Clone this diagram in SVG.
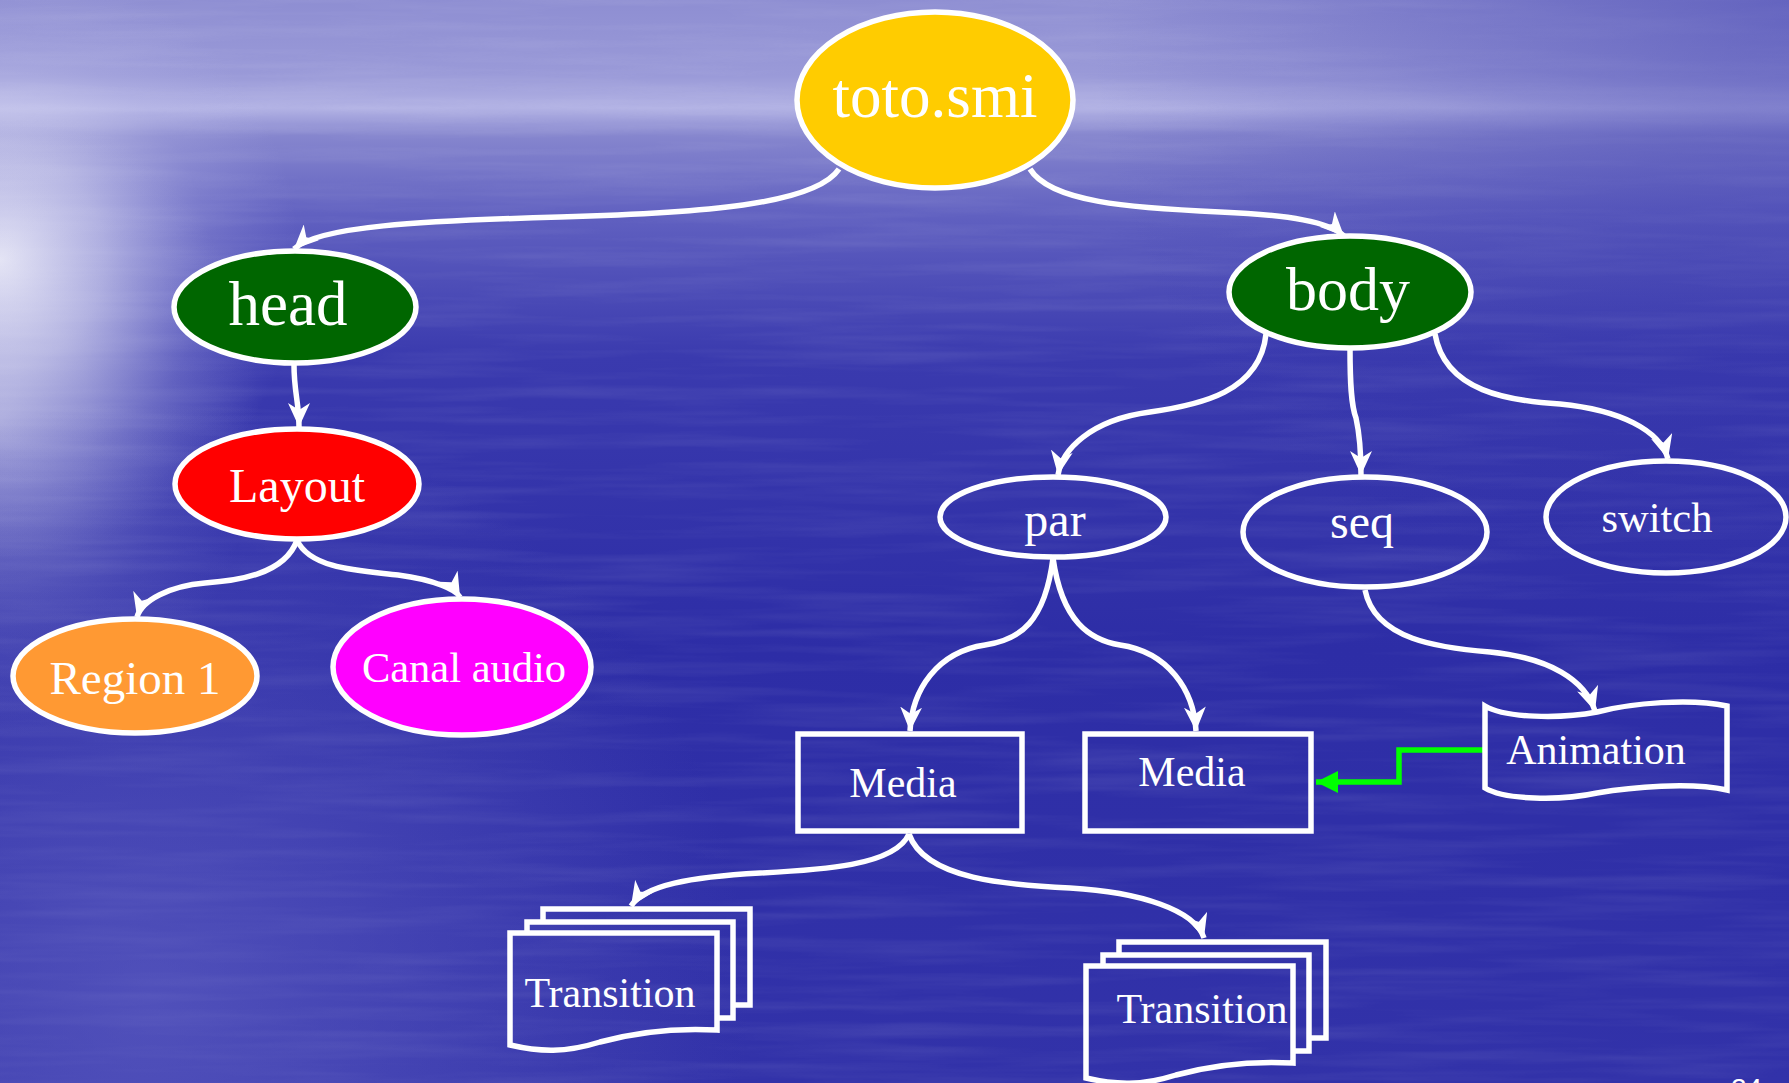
<svg xmlns="http://www.w3.org/2000/svg" width="1789" height="1083" viewBox="0 0 1789 1083">
<defs>
<linearGradient id="sky" x1="0" y1="0" x2="0" y2="1">
<stop offset="0" stop-color="#8e8ed2"/>
<stop offset="0.07" stop-color="#9a9ad8"/>
<stop offset="0.1" stop-color="#b2b2e4"/>
<stop offset="0.125" stop-color="#8686ce"/>
<stop offset="0.2" stop-color="#6060c0"/>
<stop offset="0.33" stop-color="#3a3aae"/>
<stop offset="0.6" stop-color="#2d2da6"/>
<stop offset="1" stop-color="#3232a9"/>
</linearGradient>
<radialGradient id="dark" cx="1789" cy="0" r="700" gradientUnits="userSpaceOnUse">
<stop offset="0" stop-color="#3030a8" stop-opacity="0.45"/>
<stop offset="1" stop-color="#3030a8" stop-opacity="0"/>
</radialGradient>
<radialGradient id="glow" cx="0.5" cy="0.5" r="0.5">
<stop offset="0" stop-color="#ffffff" stop-opacity="0.85"/>
<stop offset="0.35" stop-color="#eeeefa" stop-opacity="0.55"/>
<stop offset="0.7" stop-color="#c8c8ee" stop-opacity="0.2"/>
<stop offset="1" stop-color="#c0c0ee" stop-opacity="0"/>
</radialGradient>
<radialGradient id="low" cx="150" cy="1000" r="600" gradientUnits="userSpaceOnUse">
<stop offset="0" stop-color="#7070cc" stop-opacity="0.5"/>
<stop offset="1" stop-color="#7070cc" stop-opacity="0"/>
</radialGradient>
<filter id="noise" x="0" y="0" width="100%" height="100%">
<feTurbulence type="fractalNoise" baseFrequency="0.004 0.08" numOctaves="3" seed="3"/>
<feColorMatrix type="matrix" values="0 0 0 0 1  0 0 0 0 1  0 0 0 0 1  0 0 0 0.5 -0.2"/>
</filter>
<marker id="arw" markerUnits="userSpaceOnUse" markerWidth="26" markerHeight="22" refX="24" refY="11" orient="auto">
<path d="M0,0 L24,11 L0,22 L7,11 Z" fill="#ffffff"/>
</marker>
<marker id="garw" markerUnits="userSpaceOnUse" markerWidth="24" markerHeight="22" refX="22" refY="11" orient="auto">
<path d="M0,0 L22,11 L0,22 Z" fill="#00ff00"/>
</marker>
</defs>
<style>
.lbl{font-family:"Liberation Serif","Times New Roman",serif;fill:#ffffff;text-anchor:middle}
.shp{stroke:#ffffff;stroke-width:5.5}
.open{fill:none;stroke:#ffffff;stroke-width:5.5}
.con{fill:none;stroke:#ffffff;stroke-width:5.5;marker-end:url(#arw)}
</style>
<rect x="0" y="0" width="1789" height="1083" fill="url(#sky)"/>
<rect x="0" y="0" width="1789" height="1083" filter="url(#noise)" opacity="0.3"/>
<rect x="0" y="0" width="1789" height="1083" fill="url(#dark)"/>
<ellipse cx="0" cy="260" rx="300" ry="300" fill="url(#glow)"/>
<ellipse cx="0" cy="420" rx="260" ry="320" fill="url(#glow)" opacity="0.5"/>
<rect x="0" y="0" width="1789" height="1083" fill="url(#low)"/>

<g id="connectors">
<path class="con" d="M839,169 C815,205 700,213 560,217 C420,221 318,226 294,249"/>
<path class="con" d="M1030,169 C1050,202 1130,208 1220,212 C1290,215 1330,222 1344,236"/>
<path class="con" d="M294,365 C294,392 299,402 299,427"/>
<path class="con" d="M297,540 C285,575 235,581 205,583 C170,586 142,600 137,617"/>
<path class="con" d="M297,540 C310,570 365,571 398,575 C436,580 456,590 460,597"/>
<path class="con" d="M1266,334 C1260,392 1200,405 1150,412 C1090,420 1062,450 1058,475"/>
<path class="con" d="M1350,348 C1350,382 1351,405 1356,418 C1360,436 1361,456 1361,475"/>
<path class="con" d="M1435,334 C1445,392 1510,401 1560,404 C1620,410 1660,430 1668,459"/>
<path class="con" d="M1053,558 C1045,622 1020,640 985,645 C937,652 912,690 910,731"/>
<path class="con" d="M1053,558 C1062,622 1090,640 1120,645 C1168,652 1194,690 1196,731"/>
<path class="con" d="M1365,590 C1375,640 1440,648 1490,652 C1550,658 1585,680 1595,711"/>
<path class="con" d="M909,834 C895,866 820,870 760,873 C690,877 645,885 631,906"/>
<path class="con" d="M909,834 C925,880 1010,885 1070,888 C1140,892 1195,910 1204,938"/>
<path d="M1484,750 H1399 V782 H1316" fill="none" stroke="#00ff00" stroke-width="5.5" marker-end="url(#garw)"/>
</g>

<g id="toto">
<ellipse class="shp" cx="935" cy="100" rx="138" ry="88" fill="#ffcc00"/>
<text class="lbl" x="935" y="117" font-size="63">toto.smi</text>
</g>
<g id="head">
<ellipse class="shp" cx="295" cy="307" rx="121" ry="56" fill="#006600"/>
<text class="lbl" x="288" y="325" font-size="63">head</text>
</g>
<g id="body">
<ellipse class="shp" cx="1350" cy="292" rx="121" ry="56" fill="#006600"/>
<text class="lbl" x="1348" y="310" font-size="62">body</text>
</g>
<g id="layout">
<ellipse class="shp" cx="297" cy="484" rx="122" ry="55" fill="#ff0000"/>
<text class="lbl" x="297" y="502" font-size="48">Layout</text>
</g>
<g id="region1">
<ellipse class="shp" cx="135" cy="676" rx="122" ry="57" fill="#ff9933"/>
<text class="lbl" x="135" y="694" font-size="47">Region 1</text>
</g>
<g id="canal">
<ellipse class="shp" cx="462" cy="667" rx="129" ry="68" fill="#ff00ff"/>
<text class="lbl" x="464" y="682" font-size="42.5">Canal audio</text>
</g>
<g id="par">
<ellipse class="shp" cx="1053" cy="517" rx="113" ry="40" fill="none"/>
<text class="lbl" x="1055" y="536" font-size="48">par</text>
</g>
<g id="seq">
<ellipse class="shp" cx="1365" cy="532" rx="122" ry="55" fill="none"/>
<text class="lbl" x="1362" y="538" font-size="48">seq</text>
</g>
<g id="switch">
<ellipse class="shp" cx="1666" cy="517" rx="120" ry="56" fill="none"/>
<text class="lbl" x="1657" y="532" font-size="42.5">switch</text>
</g>
<g id="media1">
<rect class="shp" x="798" y="734" width="224" height="97" fill="none"/>
<text class="lbl" x="903" y="797" font-size="42">Media</text>
</g>
<g id="media2">
<rect class="shp" x="1085" y="734" width="226" height="97" fill="none"/>
<text class="lbl" x="1192" y="786" font-size="42">Media</text>
</g>
<g id="animation">
<path class="open" d="M1485,706 C1505,718 1560,719 1597,712 C1632,703 1690,698 1727,706 V790 C1690,782 1632,787 1597,793 C1560,801 1505,800 1485,788 Z"/>
<text class="lbl" x="1596" y="764" font-size="42">Animation</text>
</g>
<g id="transition1">
<path class="open" d="M543,922 V909 H750 V1005 H733"/>
<path class="open" d="M527,933 V922 H733 V1018 H717"/>
<path class="open" d="M510,933 H717 V1030 C680,1028 640,1031 600,1042 C565,1053 540,1052 510,1045 Z"/>
<text class="lbl" x="610" y="1007" font-size="42">Transition</text>
</g>
<g id="transition2">
<path class="open" d="M1119,955 V942 H1326 V1038 H1309"/>
<path class="open" d="M1103,966 V955 H1309 V1051 H1293"/>
<path class="open" d="M1086,966 H1293 V1063 C1256,1061 1216,1064 1176,1075 C1141,1086 1116,1085 1086,1078 Z"/>
<text class="lbl" x="1202" y="1023" font-size="42">Transition</text>
</g>
<text x="1731" y="1098" font-family="Liberation Sans, Arial, sans-serif" font-size="28" fill="#ffffff">24</text>
</svg>
